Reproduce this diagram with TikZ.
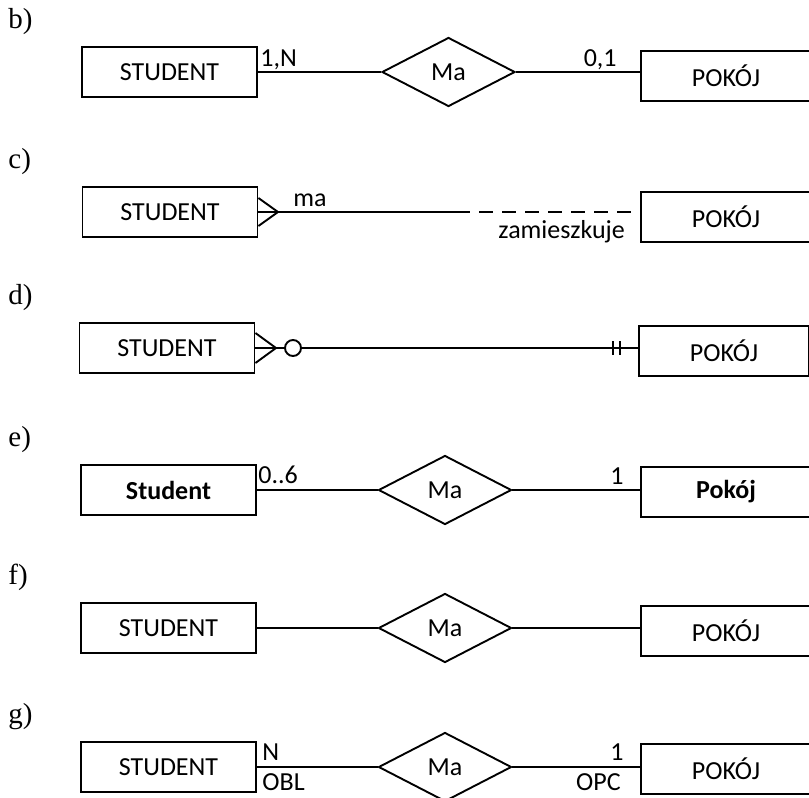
\documentclass[tikz,border=0pt]{standalone}
\usepackage{fontspec}
\setmainfont{Carlito}
\newfontfamily\lblfont{Liberation Serif}
\usetikzlibrary{shapes.geometric,calc}
\begin{document}
\begin{tikzpicture}[x=0.5pt,y=-0.5pt,
  every node/.style={font=\fontsize{13}{15}\selectfont},
  entity/.style={draw, line width=0.95pt, rectangle, minimum width=87.5pt,
    minimum height=25pt, inner sep=0pt},
  entityR/.style={entity, minimum width=85pt},
  rel/.style={draw, line width=0.95pt, diamond, aspect=1.93,
    minimum width=66.5pt, minimum height=34.5pt, inner sep=0pt},
  link/.style={line width=0.95pt},
  tag/.style={inner sep=0pt},
  rowlabel/.style={font=\lblfont\fontsize{14.5}{16}\selectfont,
    anchor=base west, inner sep=0pt}]
\useasboundingbox (0,0) rectangle (809,798);

% ---------- b) ----------
\node[rowlabel] (lb) at (8,28) {b)};
\node[entity] (sb) at (169.5,72) {STUDENT};
\node[rel] (mb) at (448.5,72) {Ma};
\node[entityR] (pb) at (726,76) {POKÓJ};
\draw[link] (sb.east) -- (mb.west);
\draw[link] (mb.east) -- (mb.east -| pb.west);
\node[tag, anchor=base west] (kb1) at (260,66) {1,N};
\node[tag, anchor=base east] (kb2) at (617,66) {0,1};

% ---------- c) ----------
\node[rowlabel] (lc) at (8,168) {c)};
\node[entity] (sc) at (170,212) {STUDENT};
\node[entityR] (pc) at (726,217) {POKÓJ};
\coordinate (ac) at (278,212);
\coordinate (hc) at (456,212);
\draw[link] ($(sc.east)+(0,-14)$) -- (ac) -- ($(sc.east)+(0,14)$);
\draw[link] (sc.east) -- (ac) -- (hc);
\draw[link, dash pattern=on 7pt off 4.5pt] (hc) -- (hc -| pc.west);
\node[tag, anchor=base west] (kc1) at (293,206) {ma};
\node[tag, anchor=base west] (kc2) at (498,238) {zamieszkuje};

% ---------- d) ----------
\node[rowlabel] (ld) at (8,304) {d)};
\node[entity] (sd) at (167,348) {STUDENT};
\node[entityR] (pd) at (724,351) {POKÓJ};
\coordinate (ad) at (276,348);
\draw[link] ($(sd.east)+(0,-15)$) -- (ad) -- ($(sd.east)+(0,15)$);
\draw[link] (sd.east) -- (ad);
\node[draw, circle, line width=0.95pt, minimum size=8pt, inner sep=0pt] (od) at (293,348) {};
\draw[link] (ad) -- (od.west);
\draw[link] (od.east) -- (od.east -| pd.west);
\coordinate (td1) at (613,348);
\coordinate (td2) at (620,348);
\draw[link] ($(td1)+(0,-7)$) -- ($(td1)+(0,7)$);
\draw[link] ($(td2)+(0,-7)$) -- ($(td2)+(0,7)$);

% ---------- e) ----------
\node[rowlabel] (le) at (8,446) {e)};
\node[entity] (se) at (168.5,490) {\textbf{Student}};
\node[rel] (me) at (445,490) {Ma};
\node[entityR] (pe) at (726,492) {\textbf{Pokój}};
\draw[link] (se.east) -- (me.west);
\draw[link] (me.east) -- (me.east -| pe.west);
\node[tag, anchor=base west] (ke1) at (258,483) {0..6};
\node[tag, anchor=base east] (ke2) at (624,484) {1};

% ---------- f) ----------
\node[rowlabel] (lf) at (8,584) {f)};
\node[entity] (sf) at (168.5,628) {STUDENT};
\node[rel] (mf) at (445,628) {Ma};
\node[entityR] (pf) at (726,631) {POKÓJ};
\draw[link] (sf.east) -- (mf.west);
\draw[link] (mf.east) -- (mf.east -| pf.west);

% ---------- g) ----------
\node[rowlabel] (lg) at (8,723) {g)};
\node[entity] (sg) at (168.5,767) {STUDENT};
\node[rel] (mg) at (445,767) {Ma};
\node[entityR] (pg) at (726,769) {POKÓJ};
\draw[link] (sg.east) -- (mg.west);
\draw[link] (mg.east) -- (mg.east -| pg.west);
\node[tag, anchor=base west] (kg1) at (262,760) {N};
\node[tag, anchor=base west] (kg2) at (262,790) {OBL};
\node[tag, anchor=base east] (kg3) at (624,760) {1};
\node[tag, anchor=base east] (kg4) at (621,790) {OPC};
\end{tikzpicture}
\end{document}
